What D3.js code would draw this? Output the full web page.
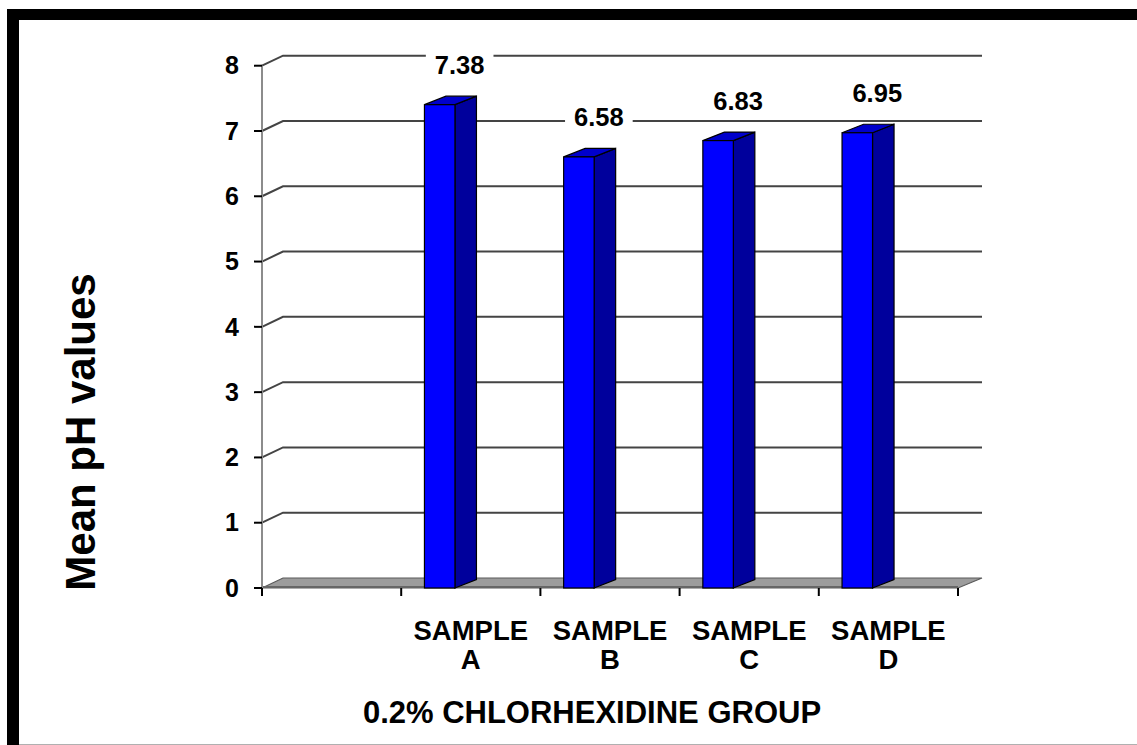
<!DOCTYPE html>
<html>
<head>
<meta charset="utf-8">
<script src="https://cdn.jsdelivr.net/npm/d3@7"></script>
<style>
  html, body { margin: 0; padding: 0; background: #fff; }
  svg { display: block; }
  text { font-family: "Liberation Sans", Arial, sans-serif; font-weight: bold; fill: #000; }
</style>
</head>
<body>
<svg id="chart" width="1137" height="745"></svg>
<script>
// chart data
const categories = ["", "SAMPLE A", "SAMPLE B", "SAMPLE C", "SAMPLE D"];
const values = [null, 7.38, 6.58, 6.83, 6.95];
const yTicks = [0, 1, 2, 3, 4, 5, 6, 7, 8];
const yTitle = "Mean pH values";
const xTitle = "0.2% CHLORHEXIDINE GROUP";

const svg = d3.select("#chart");
const W = 1137, H = 745;

// layout of the pseudo-3D plot
const plot = { left: 262, right: 958, top: 65.7, bottom: 588 };
const wallDepth = { dx: 21, dy: -10 };
const barDepth = { dx: 21.5, dy: -8.5 };

const x = d3.scaleBand().domain(categories).range([plot.left, plot.right]).padding(0);
const y = d3.scaleLinear().domain([0, 8]).range([plot.bottom, plot.top]);
const bw = x.bandwidth();

// frame
svg.append("rect").attr("x", 7).attr("y", 9).attr("width", W - 7).attr("height", 11).attr("fill", "#000");
svg.append("rect").attr("x", 7).attr("y", 9).attr("width", 12).attr("height", H - 9).attr("fill", "#000");
svg.append("line").attr("x1", 19).attr("x2", W).attr("y1", 744.5).attr("y2", 744.5)
  .attr("stroke", "#b0b0b0").attr("stroke-width", 1);

// back wall gridlines (with the small diagonal from the axis)
const grid = svg.append("g");
yTicks.filter(t => t > 0).forEach(t => {
  const yy = y(t);
  grid.append("path")
    .attr("d", `M${plot.left},${yy} L${plot.left + wallDepth.dx},${yy + wallDepth.dy} L${plot.right + wallDepth.dx + 3},${yy + wallDepth.dy}`)
    .attr("fill", "none")
    .attr("stroke", "#444")
    .attr("stroke-width", 2);
});

// floor
const floorPts = [
  [plot.left, plot.bottom],
  [plot.left + wallDepth.dx, plot.bottom + wallDepth.dy],
  [plot.right + wallDepth.dx + 3, plot.bottom + wallDepth.dy],
  [plot.right, plot.bottom]
];
svg.append("path")
  .attr("d", d3.line()(floorPts) + "Z")
  .attr("fill", "#9c9c9c")
  .attr("stroke", "#5a5a5a")
  .attr("stroke-width", 1.2);
svg.append("line")
  .attr("x1", plot.left).attr("x2", plot.right)
  .attr("y1", plot.bottom - 1).attr("y2", plot.bottom - 1)
  .attr("stroke", "#666").attr("stroke-width", 2);

// y axis
svg.append("line")
  .attr("x1", plot.left).attr("x2", plot.left)
  .attr("y1", plot.top).attr("y2", plot.bottom)
  .attr("stroke", "#8c8c8c").attr("stroke-width", 2);
const yAxis = svg.append("g");
yTicks.forEach(t => {
  yAxis.append("line")
    .attr("x1", plot.left - 8).attr("x2", plot.left)
    .attr("y1", y(t)).attr("y2", y(t))
    .attr("stroke", "#000").attr("stroke-width", 2);
  yAxis.append("text")
    .attr("x", 239).attr("y", y(t))
    .attr("dy", "0.35em")
    .attr("text-anchor", "end")
    .attr("font-size", 25)
    .text(t);
});

// x axis ticks (band edges)
const xTickPos = categories.map(c => x(c)).concat([plot.right]);
svg.append("g").selectAll("line")
  .data(xTickPos)
  .join("line")
  .attr("x1", d => d).attr("x2", d => d)
  .attr("y1", plot.bottom).attr("y2", plot.bottom + 8)
  .attr("stroke", "#000").attr("stroke-width", 2);

// bars
const barData = categories.map((c, i) => ({ c, v: values[i] })).filter(d => d.v !== null);
const bars = svg.append("g");
barData.forEach(d => {
  const x0 = x(d.c) + bw * 0.167;
  const x1 = x0 + 30.5;
  const yt = y(d.v) - 1.5;
  const yb = plot.bottom;
  const { dx, dy } = barDepth;
  // side face
  bars.append("path")
    .attr("d", `M${x1},${yb} L${x1 + dx},${yb + dy} L${x1 + dx},${yt + dy} L${x1},${yt} Z`)
    .attr("fill", "#00009c").attr("stroke", "#000").attr("stroke-width", 1.2);
  // top face
  bars.append("path")
    .attr("d", `M${x0},${yt} L${x0 + dx},${yt + dy} L${x1 + dx},${yt + dy} L${x1},${yt} Z`)
    .attr("fill", "#0000cc").attr("stroke", "#000").attr("stroke-width", 1.2);
  // front face
  bars.append("rect")
    .attr("x", x0).attr("y", yt)
    .attr("width", x1 - x0).attr("height", yb - yt)
    .attr("fill", "#0000ff").attr("stroke", "#000").attr("stroke-width", 1.2);
});

// value labels with white box behind
const labels = svg.append("g");
barData.forEach(d => {
  const cx = x(d.c) + bw * 0.42;
  const by = y(d.v) - 32;
  const txt = d.v.toFixed(2);
  const t = labels.append("text")
    .attr("x", cx).attr("y", by)
    .attr("text-anchor", "middle")
    .attr("font-size", 25.5)
    .text(txt);
  const bb = t.node().getBBox();
  labels.insert("rect", "text")
    .attr("x", bb.x - 9).attr("y", by - 22)
    .attr("width", bb.width + 18).attr("height", 28)
    .attr("fill", "#fff");
});

// category labels (two lines)
const catG = svg.append("g");
categories.forEach(c => {
  if (!c) return;
  const parts = c.split(" ");
  const t = catG.append("text")
    .attr("x", x(c) + bw / 2)
    .attr("y", 640)
    .attr("text-anchor", "middle")
    .attr("font-size", 27.5);
  parts.forEach((p, i) => {
    t.append("tspan")
      .attr("x", x(c) + bw / 2)
      .attr("dy", i === 0 ? 0 : 29)
      .text(p);
  });
});

// axis titles
svg.append("text")
  .attr("x", 592).attr("y", 723)
  .attr("text-anchor", "middle")
  .attr("font-size", 31)
  .text(xTitle);

svg.append("text")
  .attr("transform", "translate(95,432) rotate(-90)")
  .attr("text-anchor", "middle")
  .attr("font-size", 42)
  .text(yTitle);
</script>
</body>
</html>
